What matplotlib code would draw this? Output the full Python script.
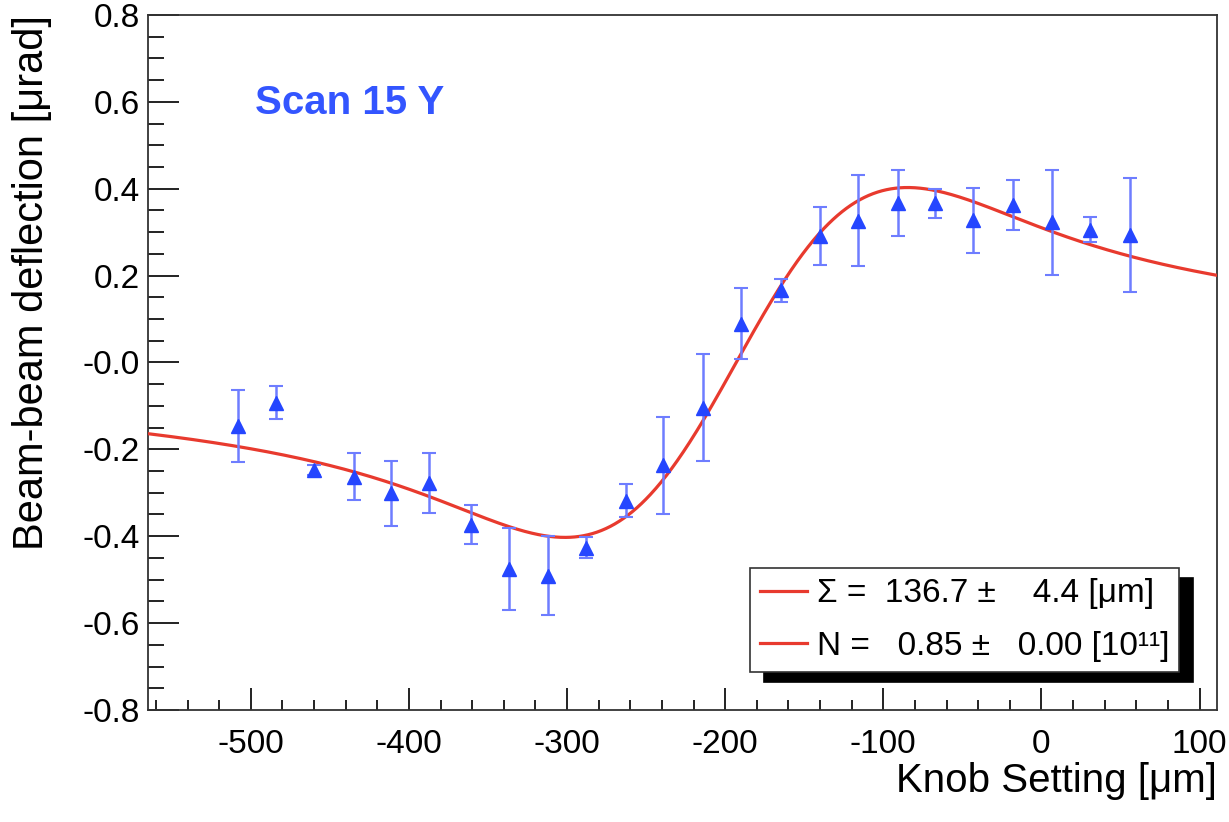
import numpy as np
import matplotlib
matplotlib.use('Agg')
import matplotlib.pyplot as plt
from matplotlib.ticker import MultipleLocator, FixedLocator, FixedFormatter

plt.rcParams['font.family'] = ['Liberation Sans', 'DejaVu Sans']

# knob setting [um], deflection [urad], error
knob = [-508, -484, -460, -435, -411, -387, -361, -337, -312, -288, -263, -239,
        -214, -190, -165, -140, -116, -91, -67, -43, -18, 7, 31, 56]
defl = [-0.146, -0.093, -0.248, -0.263, -0.301, -0.277, -0.374, -0.476, -0.491,
        -0.426, -0.318, -0.237, -0.104, 0.089, 0.166, 0.292, 0.326, 0.367,
        0.366, 0.327, 0.362, 0.323, 0.306, 0.293]
err = [0.083, 0.038, 0.012, 0.054, 0.075, 0.069, 0.045, 0.094, 0.091, 0.024,
       0.038, 0.111, 0.123, 0.082, 0.026, 0.067, 0.105, 0.075, 0.033, 0.075,
       0.057, 0.121, 0.028, 0.131]

# fit parameters (Sigma from the legend, centre and scale)
sigma = 136.7
x0 = -193.0
amp = 122.0

xticks = [-500, -400, -300, -200, -100, 0, 100]
xticklabels = ['-500', '-400', '-300', '-200', '-100', '0', '100']
yticks = [-0.8, -0.6, -0.4, -0.2, 0.0, 0.2, 0.4, 0.6, 0.8]
yticklabels = ['-0.8', '-0.6', '-0.4', '-0.2', '-0.0', '0.2', '0.4', '0.6', '0.8']

leg_labels = ['\u03a3 =  136.7 \u00b1    4.4 [\u03bcm]',
              'N =   0.85 \u00b1   0.00 [10\u00b9\u00b9]']


def bb_deflection(x):
    d = 2 * (x - x0)
    return amp * (1 - np.exp(-d ** 2 / (2 * sigma ** 2))) / d


fig = plt.figure(figsize=(12.29, 8.22), dpi=100, facecolor='white')
ax = fig.add_axes([0.1204, 0.1363, 0.8698, 0.8455])

xlo, xhi = -565, 111
ax.set_xlim(xlo, xhi)
ax.set_ylim(-0.8, 0.8)

xs = np.linspace(xlo, xhi, 1201)
l1, = ax.plot(xs, bb_deflection(xs), color='#e83a2e', lw=2.3, zorder=3)
l2, = ax.plot([], [], color='#e83a2e', lw=2.3)

ax.errorbar(knob, defl, yerr=err, fmt='none', ecolor='#6e7dff', elinewidth=1.8,
            capsize=5, capthick=1.5, zorder=4)
ax.plot(knob, defl, '^', color='#2546ff', ms=10.5, mec='#2546ff', zorder=5)

ax.text(0.100, 0.873, 'Scan 15 Y', transform=ax.transAxes, color='#3355ff',
        fontsize=29, fontweight='bold', va='center', ha='left')

# ticks ROOT style
ax.xaxis.set_major_locator(FixedLocator(xticks))
ax.xaxis.set_major_formatter(FixedFormatter(xticklabels))
ax.xaxis.set_minor_locator(MultipleLocator(20))
ax.yaxis.set_major_locator(FixedLocator(yticks))
ax.yaxis.set_major_formatter(FixedFormatter(yticklabels))
ax.yaxis.set_minor_locator(MultipleLocator(0.05))

ax.tick_params(axis='both', which='both', direction='in', top=False, right=False,
               color='#222222', width=1.4, labelsize=24)
ax.tick_params(axis='x', which='major', length=16, pad=14)
ax.tick_params(axis='x', which='minor', length=7.5)
ax.tick_params(axis='y', which='major', length=22, pad=6)
ax.tick_params(axis='y', which='minor', length=11.5)

for s in ax.spines.values():
    s.set_linewidth(1.3)
    s.set_color('#333333')

ax.set_xlabel('Knob Setting [\u03bcm]', fontsize=29, loc='right')
ax.set_ylabel('Beam-beam deflection [\u03bcrad]', fontsize=30, loc='top')
ax.xaxis.set_label_coords(1.0, -0.075)
ax.yaxis.set_label_coords(-0.09, 1.0)

leg = ax.legend([l1, l2], leg_labels, loc='lower right',
                bbox_to_anchor=(0.9645, 0.0547), borderaxespad=0,
                fontsize=24, frameon=True, fancybox=False,
                handlelength=1.4, handletextpad=0.3, labelspacing=0.65,
                borderpad=0.3,
                shadow={'ox': 10, 'oy': -7, 'color': 'black', 'alpha': 1})
leg.get_frame().set_edgecolor('#333333')
leg.get_frame().set_linewidth(1.2)
leg.get_frame().set_alpha(1)

fig.savefig('out.png', dpi=100, facecolor='white')
